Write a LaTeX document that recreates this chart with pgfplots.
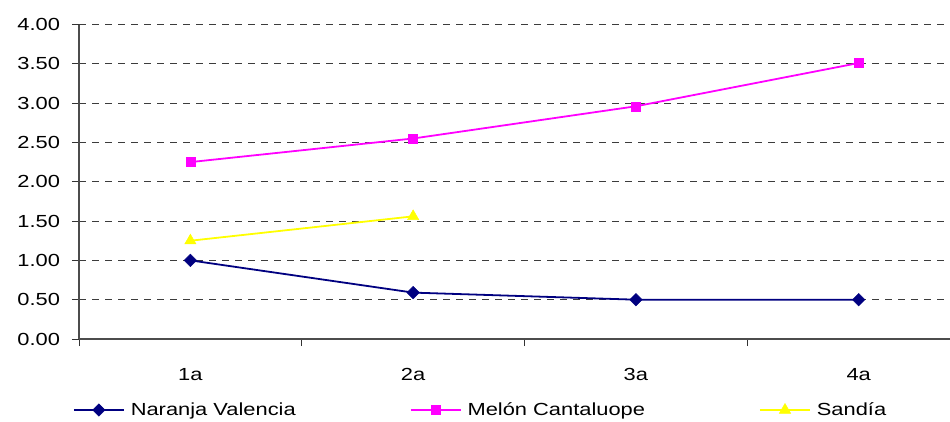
\documentclass[border=0pt]{standalone}
\usepackage{pgfplots}
\pgfplotsset{compat=1.18}
\usepackage{fontspec}
\setmainfont{Liberation Sans}[FakeStretch=1.25]
\definecolor{navyc}{RGB}{0,0,128}
\definecolor{magc}{RGB}{255,0,255}
\definecolor{yelc}{RGB}{255,255,0}
\definecolor{gridc}{RGB}{60,60,60}
\begin{document}
\fontsize{17.5bp}{20bp}\selectfont
\begin{tikzpicture}
\useasboundingbox (0,0) rectangle (950bp,422bp);
\begin{axis}[
  at={(79bp,83bp)}, anchor=south west,
  scale only axis, width=871bp, height=314.5bp,
  xmin=0.5, xmax=4.41, ymin=0, ymax=4,
  axis lines*=left,
  axis line style={draw=black!70, line width=1.1pt},
  tick align=outside,
  xtick={1,2,3,4}, xticklabels={1a,2a,3a,4a},
  major x tick style={draw=none},
  minor xtick={0.5,1.5,2.5,3.5},
  minor tick length=7bp, major tick length=7bp,
  tick style={black!80, line width=0.9pt},
  ytick={0,0.5,...,4},
  yticklabel style={/pgf/number format/.cd, fixed, fixed zerofill, precision=2, /tikz/.cd, xshift=-6bp},
  /pgf/number format/assume math mode=true,
  xticklabel style={yshift=-16bp},
  ymajorgrids,
  major grid style={gridc, line width=1.1pt, dash pattern=on 7bp off 6bp},
  tick label style={font=\fontsize{17.5bp}{20bp}\selectfont},
  legend columns=3,
  legend style={at={(axis description cs:-0.0069,-0.2258)}, anchor=west, draw=none, fill=none, inner sep=0pt, outer sep=0pt,
    nodes={inner sep=0pt, anchor=west, font=\fontsize{17.5bp}{20bp}\selectfont},
    /tikz/every odd column/.style={column sep=6bp},
    /tikz/every even column/.style={column sep=114bp}},
  legend image code/.code={\draw[mark repeat=2,mark phase=2,#1] plot coordinates {(0bp,0bp) (25bp,0bp) (50bp,0bp)};},
]
\addplot[navyc, line width=1.8pt, mark=square*, mark size=4.4bp, mark options={solid, fill=navyc, line width=0.5pt, rotate=45}] coordinates {(1,1.00) (2,0.59) (3,0.50) (4,0.50)};
\addlegendentry{Naranja Valencia}
\addplot[magc, line width=1.8pt, mark=square*, mark size=4.5bp, mark options={solid, fill=magc, line width=0.5pt}] coordinates {(1,2.25) (2,2.55) (3,2.96) (4,3.51)};
\addlegendentry{Melón Cantaluope}
\addplot[yelc, line width=1.8pt, mark=triangle*, mark size=6.5bp, mark options={solid, fill=yelc, line width=0.5pt}] coordinates {(1,1.25) (2,1.56)};
\addlegendentry{Sandía}
\end{axis}
\end{tikzpicture}
\end{document}
